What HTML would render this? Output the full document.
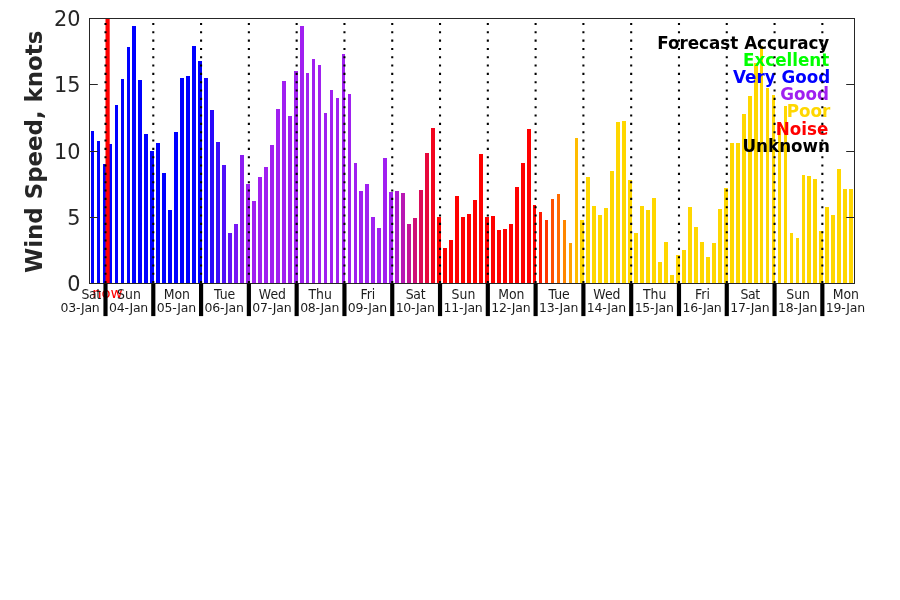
<!DOCTYPE html>
<html lang="en"><head><meta charset="utf-8"><title>Wind Speed Forecast</title>
<style>html,body{margin:0;padding:0;background:#fff;}body{width:900px;height:600px;overflow:hidden;}svg{display:block;}</style>
</head><body>
<svg width="900" height="600" viewBox="0 0 900 600">
<rect width="900" height="600" fill="#fff"/>
<g shape-rendering="crispEdges">
<rect x="91" y="131" width="3" height="152" fill="rgb(0,0,255)"/>
<rect x="97" y="141" width="3" height="142" fill="rgb(0,0,255)"/>
<rect x="103" y="164" width="3" height="119" fill="rgb(0,0,255)"/>
<rect x="109" y="144" width="3" height="139" fill="rgb(0,0,255)"/>
<rect x="115" y="105" width="3" height="178" fill="rgb(0,0,255)"/>
<rect x="121" y="79" width="3" height="204" fill="rgb(0,0,255)"/>
<rect x="127" y="47" width="3" height="236" fill="rgb(0,0,255)"/>
<rect x="132" y="26" width="4" height="257" fill="rgb(0,0,255)"/>
<rect x="138" y="80" width="4" height="203" fill="rgb(0,0,255)"/>
<rect x="144" y="134" width="4" height="149" fill="rgb(0,0,255)"/>
<rect x="150" y="151" width="4" height="132" fill="rgb(0,0,255)"/>
<rect x="156" y="143" width="4" height="140" fill="rgb(0,0,255)"/>
<rect x="162" y="173" width="4" height="110" fill="rgb(0,0,255)"/>
<rect x="168" y="210" width="4" height="73" fill="rgb(0,0,255)"/>
<rect x="174" y="132" width="4" height="151" fill="rgb(0,0,255)"/>
<rect x="180" y="78" width="4" height="205" fill="rgb(0,0,255)"/>
<rect x="186" y="76" width="4" height="207" fill="rgb(0,0,255)"/>
<rect x="192" y="46" width="4" height="237" fill="rgb(0,0,255)"/>
<rect x="198" y="61" width="4" height="222" fill="rgb(0,0,255)"/>
<rect x="204" y="78" width="4" height="205" fill="rgb(20,4,253)"/>
<rect x="210" y="110" width="4" height="173" fill="rgb(40,8,251)"/>
<rect x="216" y="142" width="4" height="141" fill="rgb(60,12,249)"/>
<rect x="222" y="165" width="4" height="118" fill="rgb(80,16,248)"/>
<rect x="228" y="233" width="4" height="50" fill="rgb(100,20,246)"/>
<rect x="234" y="224" width="4" height="59" fill="rgb(120,24,244)"/>
<rect x="240" y="155" width="4" height="128" fill="rgb(140,28,242)"/>
<rect x="246" y="184" width="4" height="99" fill="rgb(160,32,240)"/>
<rect x="252" y="201" width="4" height="82" fill="rgb(160,32,240)"/>
<rect x="258" y="177" width="4" height="106" fill="rgb(160,32,240)"/>
<rect x="264" y="167" width="4" height="116" fill="rgb(160,32,240)"/>
<rect x="270" y="145" width="4" height="138" fill="rgb(160,32,240)"/>
<rect x="276" y="109" width="4" height="174" fill="rgb(160,32,240)"/>
<rect x="282" y="81" width="4" height="202" fill="rgb(160,32,240)"/>
<rect x="288" y="116" width="4" height="167" fill="rgb(160,32,240)"/>
<rect x="294" y="71" width="4" height="212" fill="rgb(160,32,240)"/>
<rect x="300" y="26" width="4" height="257" fill="rgb(160,32,240)"/>
<rect x="306" y="73" width="3" height="210" fill="rgb(160,32,240)"/>
<rect x="312" y="59" width="3" height="224" fill="rgb(160,32,240)"/>
<rect x="318" y="65" width="3" height="218" fill="rgb(160,32,240)"/>
<rect x="324" y="113" width="3" height="170" fill="rgb(160,32,240)"/>
<rect x="330" y="90" width="3" height="193" fill="rgb(160,32,240)"/>
<rect x="336" y="98" width="3" height="185" fill="rgb(160,32,240)"/>
<rect x="342" y="54" width="3" height="229" fill="rgb(160,32,240)"/>
<rect x="348" y="94" width="3" height="189" fill="rgb(160,32,240)"/>
<rect x="354" y="163" width="3" height="120" fill="rgb(160,32,240)"/>
<rect x="359" y="191" width="4" height="92" fill="rgb(160,32,240)"/>
<rect x="365" y="184" width="4" height="99" fill="rgb(160,32,240)"/>
<rect x="371" y="217" width="4" height="66" fill="rgb(160,32,240)"/>
<rect x="377" y="228" width="4" height="55" fill="rgb(160,32,240)"/>
<rect x="383" y="158" width="4" height="125" fill="rgb(160,32,240)"/>
<rect x="389" y="192" width="4" height="91" fill="rgb(160,32,240)"/>
<rect x="395" y="191" width="4" height="92" fill="rgb(172,28,210)"/>
<rect x="401" y="193" width="4" height="90" fill="rgb(184,24,180)"/>
<rect x="407" y="224" width="4" height="59" fill="rgb(196,20,150)"/>
<rect x="413" y="218" width="4" height="65" fill="rgb(208,16,120)"/>
<rect x="419" y="190" width="4" height="93" fill="rgb(219,12,90)"/>
<rect x="425" y="153" width="4" height="130" fill="rgb(231,8,60)"/>
<rect x="431" y="128" width="4" height="155" fill="rgb(243,4,30)"/>
<rect x="437" y="217" width="4" height="66" fill="rgb(255,0,0)"/>
<rect x="443" y="248" width="4" height="35" fill="rgb(255,0,0)"/>
<rect x="449" y="240" width="4" height="43" fill="rgb(255,0,0)"/>
<rect x="455" y="196" width="4" height="87" fill="rgb(255,0,0)"/>
<rect x="461" y="217" width="4" height="66" fill="rgb(255,0,0)"/>
<rect x="467" y="214" width="4" height="69" fill="rgb(255,0,0)"/>
<rect x="473" y="200" width="4" height="83" fill="rgb(255,0,0)"/>
<rect x="479" y="154" width="4" height="129" fill="rgb(255,0,0)"/>
<rect x="485" y="217" width="4" height="66" fill="rgb(255,0,0)"/>
<rect x="491" y="216" width="4" height="67" fill="rgb(255,0,0)"/>
<rect x="497" y="230" width="4" height="53" fill="rgb(255,0,0)"/>
<rect x="503" y="229" width="4" height="54" fill="rgb(255,0,0)"/>
<rect x="509" y="224" width="4" height="59" fill="rgb(255,0,0)"/>
<rect x="515" y="187" width="4" height="96" fill="rgb(255,0,0)"/>
<rect x="521" y="163" width="4" height="120" fill="rgb(255,0,0)"/>
<rect x="527" y="129" width="4" height="154" fill="rgb(255,0,0)"/>
<rect x="533" y="205" width="3" height="78" fill="rgb(255,0,0)"/>
<rect x="539" y="212" width="3" height="71" fill="rgb(255,27,0)"/>
<rect x="545" y="220" width="3" height="63" fill="rgb(255,54,0)"/>
<rect x="551" y="199" width="3" height="84" fill="rgb(255,81,0)"/>
<rect x="557" y="194" width="3" height="89" fill="rgb(255,108,0)"/>
<rect x="563" y="220" width="3" height="63" fill="rgb(255,134,0)"/>
<rect x="569" y="243" width="3" height="40" fill="rgb(255,161,0)"/>
<rect x="575" y="138" width="3" height="145" fill="rgb(255,188,0)"/>
<rect x="580" y="220" width="4" height="63" fill="rgb(255,215,0)"/>
<rect x="586" y="177" width="4" height="106" fill="rgb(255,215,0)"/>
<rect x="592" y="206" width="4" height="77" fill="rgb(255,215,0)"/>
<rect x="598" y="215" width="4" height="68" fill="rgb(255,215,0)"/>
<rect x="604" y="208" width="4" height="75" fill="rgb(255,215,0)"/>
<rect x="610" y="171" width="4" height="112" fill="rgb(255,215,0)"/>
<rect x="616" y="122" width="4" height="161" fill="rgb(255,215,0)"/>
<rect x="622" y="121" width="4" height="162" fill="rgb(255,215,0)"/>
<rect x="628" y="180" width="4" height="103" fill="rgb(255,215,0)"/>
<rect x="634" y="233" width="4" height="50" fill="rgb(255,215,0)"/>
<rect x="640" y="206" width="4" height="77" fill="rgb(255,215,0)"/>
<rect x="646" y="210" width="4" height="73" fill="rgb(255,215,0)"/>
<rect x="652" y="198" width="4" height="85" fill="rgb(255,215,0)"/>
<rect x="658" y="262" width="4" height="21" fill="rgb(255,215,0)"/>
<rect x="664" y="242" width="4" height="41" fill="rgb(255,215,0)"/>
<rect x="670" y="275" width="4" height="8" fill="rgb(255,215,0)"/>
<rect x="676" y="255" width="4" height="28" fill="rgb(255,215,0)"/>
<rect x="682" y="250" width="4" height="33" fill="rgb(255,215,0)"/>
<rect x="688" y="207" width="4" height="76" fill="rgb(255,215,0)"/>
<rect x="694" y="227" width="4" height="56" fill="rgb(255,215,0)"/>
<rect x="700" y="242" width="4" height="41" fill="rgb(255,215,0)"/>
<rect x="706" y="257" width="4" height="26" fill="rgb(255,215,0)"/>
<rect x="712" y="243" width="4" height="40" fill="rgb(255,215,0)"/>
<rect x="718" y="209" width="4" height="74" fill="rgb(255,215,0)"/>
<rect x="724" y="188" width="4" height="95" fill="rgb(255,215,0)"/>
<rect x="730" y="143" width="4" height="140" fill="rgb(255,215,0)"/>
<rect x="736" y="143" width="4" height="140" fill="rgb(255,215,0)"/>
<rect x="742" y="114" width="4" height="169" fill="rgb(255,215,0)"/>
<rect x="748" y="96" width="4" height="187" fill="rgb(255,215,0)"/>
<rect x="754" y="63" width="4" height="220" fill="rgb(255,215,0)"/>
<rect x="760" y="46" width="3" height="237" fill="rgb(255,215,0)"/>
<rect x="766" y="88" width="3" height="195" fill="rgb(255,215,0)"/>
<rect x="772" y="95" width="3" height="188" fill="rgb(255,215,0)"/>
<rect x="778" y="128" width="3" height="155" fill="rgb(255,215,0)"/>
<rect x="784" y="106" width="3" height="177" fill="rgb(255,215,0)"/>
<rect x="790" y="233" width="3" height="50" fill="rgb(255,215,0)"/>
<rect x="796" y="238" width="3" height="45" fill="rgb(255,215,0)"/>
<rect x="802" y="175" width="3" height="108" fill="rgb(255,215,0)"/>
<rect x="807" y="176" width="4" height="107" fill="rgb(255,215,0)"/>
<rect x="813" y="179" width="4" height="104" fill="rgb(255,215,0)"/>
<rect x="819" y="231" width="4" height="52" fill="rgb(255,215,0)"/>
<rect x="825" y="207" width="4" height="76" fill="rgb(255,215,0)"/>
<rect x="831" y="215" width="4" height="68" fill="rgb(255,215,0)"/>
<rect x="837" y="169" width="4" height="114" fill="rgb(255,215,0)"/>
<rect x="843" y="189" width="4" height="94" fill="rgb(255,215,0)"/>
<rect x="849" y="189" width="4" height="94" fill="rgb(255,215,0)"/>
</g>
<g font-family="'DejaVu Sans','Liberation Sans',sans-serif" font-weight="bold" font-size="16.75px" text-anchor="end">
<text x="829.3" y="48.8" fill="#000">Forecast Accuracy</text>
<text x="829.3" y="65.8" fill="#00ff00">Excellent</text>
<text x="830.2" y="82.8" fill="#0000ff">Very Good</text>
<text x="829.0" y="100.4" fill="#a020f0">Good</text>
<text x="830.3" y="116.8" fill="#ffd700">Poor</text>
<text x="828.3" y="134.8" fill="#ff0000">Noise</text>
<text x="830.0" y="152.3" fill="#000">Unknown</text>
</g>
<rect x="105.5" y="19" width="4.2" height="264.5" fill="#ff0000"/>
<g stroke="#000" stroke-width="2.08" stroke-dasharray="2.08 6.25" fill="none">
<line x1="105.50" y1="283.2" x2="105.50" y2="18.5"/>
<line x1="153.29" y1="283.2" x2="153.29" y2="18.5"/>
<line x1="201.08" y1="283.2" x2="201.08" y2="18.5"/>
<line x1="248.87" y1="283.2" x2="248.87" y2="18.5"/>
<line x1="296.66" y1="283.2" x2="296.66" y2="18.5"/>
<line x1="344.45" y1="283.2" x2="344.45" y2="18.5"/>
<line x1="392.24" y1="283.2" x2="392.24" y2="18.5"/>
<line x1="440.03" y1="283.2" x2="440.03" y2="18.5"/>
<line x1="487.82" y1="283.2" x2="487.82" y2="18.5"/>
<line x1="535.61" y1="283.2" x2="535.61" y2="18.5"/>
<line x1="583.40" y1="283.2" x2="583.40" y2="18.5"/>
<line x1="631.19" y1="283.2" x2="631.19" y2="18.5"/>
<line x1="678.98" y1="283.2" x2="678.98" y2="18.5"/>
<line x1="726.77" y1="283.2" x2="726.77" y2="18.5"/>
<line x1="774.56" y1="283.2" x2="774.56" y2="18.5"/>
<line x1="822.35" y1="283.2" x2="822.35" y2="18.5"/>
</g>
<rect x="89.5" y="18.5" width="765" height="265" fill="none" stroke="#262626" stroke-width="1"/>
<g stroke="#262626" stroke-width="1">
<line x1="89.5" y1="217.50" x2="97.8" y2="217.50"/>
<line x1="854.5" y1="217.50" x2="846.2" y2="217.50"/>
<line x1="89.5" y1="151.50" x2="97.8" y2="151.50"/>
<line x1="854.5" y1="151.50" x2="846.2" y2="151.50"/>
<line x1="89.5" y1="84.50" x2="97.8" y2="84.50"/>
<line x1="854.5" y1="84.50" x2="846.2" y2="84.50"/>
</g>
<text x="107.4" y="297.8" font-family="'DejaVu Sans','Liberation Sans',sans-serif" font-size="14.8px" text-anchor="middle" fill="#ff0000">now</text>
<g stroke="#000" stroke-width="4.17">
<line x1="105.50" y1="283.5" x2="105.50" y2="316.1"/>
<line x1="153.29" y1="283.5" x2="153.29" y2="316.1"/>
<line x1="201.08" y1="283.5" x2="201.08" y2="316.1"/>
<line x1="248.87" y1="283.5" x2="248.87" y2="316.1"/>
<line x1="296.66" y1="283.5" x2="296.66" y2="316.1"/>
<line x1="344.45" y1="283.5" x2="344.45" y2="316.1"/>
<line x1="392.24" y1="283.5" x2="392.24" y2="316.1"/>
<line x1="440.03" y1="283.5" x2="440.03" y2="316.1"/>
<line x1="487.82" y1="283.5" x2="487.82" y2="316.1"/>
<line x1="535.61" y1="283.5" x2="535.61" y2="316.1"/>
<line x1="583.40" y1="283.5" x2="583.40" y2="316.1"/>
<line x1="631.19" y1="283.5" x2="631.19" y2="316.1"/>
<line x1="678.98" y1="283.5" x2="678.98" y2="316.1"/>
<line x1="726.77" y1="283.5" x2="726.77" y2="316.1"/>
<line x1="774.56" y1="283.5" x2="774.56" y2="316.1"/>
<line x1="822.35" y1="283.5" x2="822.35" y2="316.1"/>
</g>
<g font-family="'DejaVu Sans','Liberation Sans',sans-serif" font-size="20.83px" text-anchor="end" fill="#262626">
<text x="80.6" y="291.0">0</text>
<text x="80.6" y="224.8">5</text>
<text x="80.6" y="158.5">10</text>
<text x="80.6" y="92.2">15</text>
<text x="80.6" y="26.0">20</text>
</g>
<g font-family="'DejaVu Sans','Liberation Sans',sans-serif" font-size="12.5px" text-anchor="middle" fill="#1c1c1c">
<text transform="translate(91.1,299) scale(1,1.07)" letter-spacing="-0.35">Sat</text>
<text transform="translate(80.0,312) scale(1,1.05)" letter-spacing="-0.2">03-Jan</text>
<text transform="translate(129.0,299) scale(1,1.07)">Sun</text>
<text transform="translate(128.5,312) scale(1,1.05)" letter-spacing="-0.2">04-Jan</text>
<text transform="translate(176.8,299) scale(1,1.07)">Mon</text>
<text transform="translate(176.3,312) scale(1,1.05)" letter-spacing="-0.2">05-Jan</text>
<text transform="translate(224.6,299) scale(1,1.07)">Tue</text>
<text transform="translate(224.1,312) scale(1,1.05)" letter-spacing="-0.2">06-Jan</text>
<text transform="translate(272.4,299) scale(1,1.07)">Wed</text>
<text transform="translate(271.9,312) scale(1,1.05)" letter-spacing="-0.2">07-Jan</text>
<text transform="translate(320.2,299) scale(1,1.07)">Thu</text>
<text transform="translate(319.7,312) scale(1,1.05)" letter-spacing="-0.2">08-Jan</text>
<text transform="translate(367.9,299) scale(1,1.07)">Fri</text>
<text transform="translate(367.4,312) scale(1,1.05)" letter-spacing="-0.2">09-Jan</text>
<text transform="translate(415.5,299) scale(1,1.07)" letter-spacing="-0.35">Sat</text>
<text transform="translate(415.2,312) scale(1,1.05)" letter-spacing="-0.2">10-Jan</text>
<text transform="translate(463.5,299) scale(1,1.07)">Sun</text>
<text transform="translate(463.0,312) scale(1,1.05)" letter-spacing="-0.2">11-Jan</text>
<text transform="translate(511.3,299) scale(1,1.07)">Mon</text>
<text transform="translate(510.8,312) scale(1,1.05)" letter-spacing="-0.2">12-Jan</text>
<text transform="translate(559.1,299) scale(1,1.07)">Tue</text>
<text transform="translate(558.6,312) scale(1,1.05)" letter-spacing="-0.2">13-Jan</text>
<text transform="translate(606.9,299) scale(1,1.07)">Wed</text>
<text transform="translate(606.4,312) scale(1,1.05)" letter-spacing="-0.2">14-Jan</text>
<text transform="translate(654.7,299) scale(1,1.07)">Thu</text>
<text transform="translate(654.2,312) scale(1,1.05)" letter-spacing="-0.2">15-Jan</text>
<text transform="translate(702.5,299) scale(1,1.07)">Fri</text>
<text transform="translate(702.0,312) scale(1,1.05)" letter-spacing="-0.2">16-Jan</text>
<text transform="translate(750.1,299) scale(1,1.07)" letter-spacing="-0.35">Sat</text>
<text transform="translate(749.8,312) scale(1,1.05)" letter-spacing="-0.2">17-Jan</text>
<text transform="translate(798.1,299) scale(1,1.07)">Sun</text>
<text transform="translate(797.6,312) scale(1,1.05)" letter-spacing="-0.2">18-Jan</text>
<text transform="translate(845.8,299) scale(1,1.07)">Mon</text>
<text transform="translate(845.3,312) scale(1,1.05)" letter-spacing="-0.2">19-Jan</text>
</g>
<text transform="translate(42.0,151.8) rotate(-90)" font-family="'DejaVu Sans','Liberation Sans',sans-serif" font-weight="bold" font-size="22.88px" text-anchor="middle" fill="#262626">Wind Speed, knots</text>
</svg>
</body></html>
